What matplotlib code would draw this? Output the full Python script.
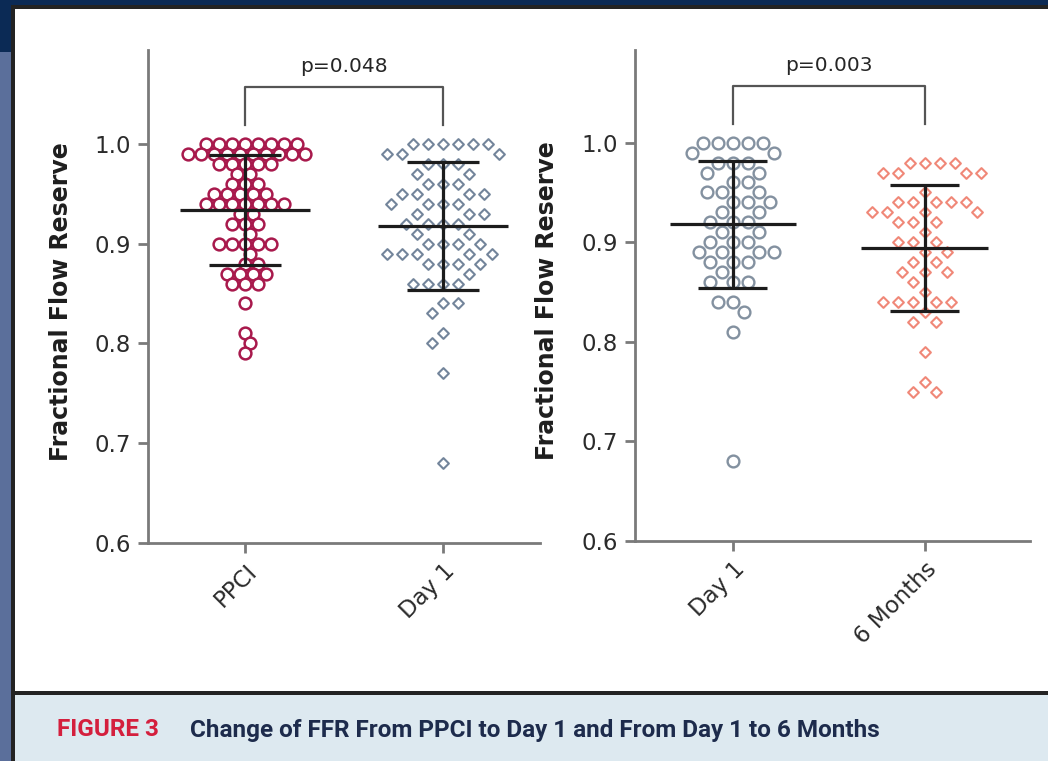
import numpy as np
import matplotlib.pyplot as plt
from matplotlib.patches import Rectangle

W, H = 1048, 761

# FFR values per group (two decimals, one entry per patient)
ppci = ([1.00] * 8 + [0.99] * 10 + [0.98] * 5 + [0.97] * 2 + [0.96] * 3 +
        [0.95] * 5 + [0.94] * 7 + [0.93] * 2 + [0.92] * 3 + [0.91] +
        [0.90] * 5 + [0.89] + [0.88] * 2 + [0.87] * 4 + [0.86] * 3 +
        [0.84, 0.81, 0.80, 0.79])
day1_a = ([1.00] * 6 + [0.99] * 3 + [0.98] * 3 + [0.97] * 2 + [0.96] * 3 +
          [0.95] * 4 + [0.94] * 4 + [0.93] * 3 + [0.92] * 4 + [0.91] * 2 +
          [0.90] * 4 + [0.89] * 5 + [0.88] * 4 + [0.87] + [0.86] * 4 +
          [0.84] * 2 + [0.83, 0.81, 0.80, 0.77, 0.68])
day1_b = ([1.00] * 5 + [0.99] * 2 + [0.98] * 3 + [0.97] * 2 + [0.96] * 2 +
          [0.95] * 3 + [0.94] * 3 + [0.93] * 2 + [0.92] * 3 + [0.91] * 2 +
          [0.90] * 3 + [0.89] * 4 + [0.88] * 3 + [0.87] + [0.86] * 3 +
          [0.84] * 2 + [0.83, 0.81, 0.68])
months6 = ([0.98] * 4 + [0.97] * 4 + [0.95] + [0.94] * 5 + [0.93] * 4 +
           [0.92] * 3 + [0.91] + [0.90] * 3 + [0.89] * 2 + [0.88] * 2 +
           [0.87] * 3 + [0.86, 0.85] + [0.84] * 5 + [0.83] + [0.82] * 2 +
           [0.79, 0.76, 0.75, 0.75])

labels_left = ['PPCI', 'Day 1']
labels_right = ['Day 1', '6 Months']
mean_left = [0.934, 0.918]
sd_left = [0.055, 0.064]
mean_right = [0.918, 0.894]
sd_right = [0.0635, 0.0635]
p_left = 'p=0.048'
p_right = 'p=0.003'


def swarm(values, d=14.0, yscale=1.0):
    """Greedy beeswarm offsets (in pixels) so markers don't pile up."""
    ys = np.asarray(values) * 1000.0 * yscale
    xs = np.zeros(len(ys))
    placed = []
    side = 1
    for i in np.argsort(-ys, kind='stable'):
        y = ys[i]
        near = [(px, py) for px, py in placed if abs(py - y) < d]
        cands = [0.0]
        for px, py in near:
            dx = np.sqrt(d * d - (py - y) ** 2)
            cands += [px - dx, px + dx]
        cands.sort(key=lambda c: (round(abs(c), 3), c * side))
        for c in cands:
            if all((c - px) ** 2 + (y - py) ** 2 >= d * d - 1e-6 for px, py in near):
                xs[i] = c
                break
        placed.append((xs[i], y))
        side = -side
    return xs


def px_rect(fig, x0, y0, x1, y1, color):
    fig.add_artist(Rectangle((x0 / W, 1 - y1 / H), (x1 - x0) / W, (y1 - y0) / H,
                             transform=fig.transFigure, facecolor=color,
                             lw=0, zorder=-10))


def make_panel(fig, box, ylim_top, xlim, groups, labels, means, sds, ptext):
    l, t, r, b = box
    ax = fig.add_axes([l / W, 1 - b / H, (r - l) / W, (b - t) / H])
    ax.set_facecolor('white')
    ax.set_xlim(*xlim)
    ax.set_ylim(0.6, ylim_top)
    unit_px = (r - l) / (xlim[1] - xlim[0])

    for k, (vals, color, marker, size, lw, d, ysc) in enumerate(groups):
        offs = swarm(vals, d=d, yscale=ysc) / unit_px
        ax.scatter(k + offs, vals, s=size, marker=marker, facecolors='white',
                   edgecolors=color, linewidths=lw, zorder=2, clip_on=False)
        m, s = means[k], sds[k]
        ax.hlines(m, k - 0.33, k + 0.33, color='#1c1c1c', lw=2.3, zorder=3)
        ax.hlines([m - s, m + s], k - 0.18, k + 0.18, color='#1c1c1c', lw=2.3, zorder=3)
        ax.vlines(k, m - s, m + s, color='#1c1c1c', lw=2.3, zorder=3)

    # significance bracket
    ax.plot([0, 0, 1, 1], [1.019, 1.057, 1.057, 1.019], color='#555555',
            lw=1.6, clip_on=False, zorder=3)
    ax.text(0.5, 1.077, ptext, ha='center', va='center', fontsize=14.5,
            color='#262626')

    for side in ['top', 'right']:
        ax.spines[side].set_visible(False)
    for side in ['left', 'bottom']:
        ax.spines[side].set_color('#7a7a7a')
        ax.spines[side].set_linewidth(2)

    ax.set_yticks([0.6, 0.7, 0.8, 0.9, 1.0])
    ax.set_yticklabels(['0.6', '0.7', '0.8', '0.9', '1.0'])
    ax.set_xticks([0, 1])
    ax.set_xticklabels(labels, rotation=45, ha='right', va='top',
                       rotation_mode='anchor')
    ax.tick_params(axis='both', direction='out', length=7, width=2,
                   color='#7a7a7a', labelsize=16.5, labelcolor='#2b2b2b', pad=5)
    ax.set_ylabel('Fractional Flow Reserve', fontsize=17, fontweight='bold',
                  color='#1e1e1e')
    ax.yaxis.set_label_coords(-0.192, 0.49)
    return ax


def main():
    fig = plt.figure(figsize=(W / 100, H / 100), dpi=100)
    fig.patch.set_facecolor('#0b2a55')

    # page frame, white panel and caption strip
    px_rect(fig, 0, 52, 11, 761, '#5b6f9b')
    px_rect(fig, 11, 5, 1048, 761, '#232323')
    px_rect(fig, 15, 9, 1048, 691, 'white')
    px_rect(fig, 15, 695, 1048, 761, '#dde9f0')

    red = '#a8194c'
    slate = '#73859b'
    grey = '#8391a0'
    salmon = '#f08878'

    # (values, colour, marker, size, edge width, spacing px, row stretch)
    left_groups = [(ppci, red, 'o', 72, 1.8, 13.0, 1.2),
                   (day1_a, slate, 'D', 30, 1.5, 15.0, 1.0)]
    right_groups = [(day1_b, grey, 'o', 72, 1.7, 15.0, 1.0),
                    (months6, salmon, 'D', 30, 1.5, 15.0, 1.0)]

    make_panel(fig, (148, 50, 540, 543), 1.094, (-0.49, 1.49), left_groups,
               labels_left, mean_left, sd_left, p_left)
    make_panel(fig, (635, 50, 1030, 541), 1.093, (-0.51, 1.55), right_groups,
               labels_right, mean_right, sd_right, p_right)

    fig.text(57 / W, 1 - 730 / H, 'FIGURE 3', color='#d41f3d', fontsize=17.5,
             fontweight='bold', family='Roboto', va='center')
    fig.text(190 / W, 1 - 730 / H,
             'Change of FFR From PPCI to Day 1 and From Day 1 to 6 Months',
             color='#1d2b4c', fontsize=17.5, fontweight='bold', family='Roboto',
             va='center')

    fig.savefig('out.png', dpi=100, facecolor=fig.get_facecolor())


main()
